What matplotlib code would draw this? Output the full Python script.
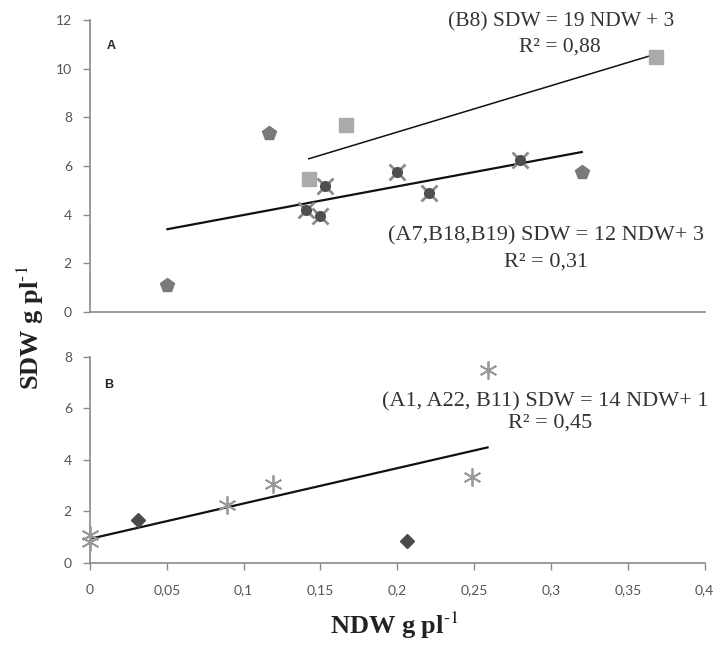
import numpy as np
from matplotlib import pyplot as plt

plt.rcParams['mathtext.fontset'] = 'stix'

# panel A: group A7, B18, B19 (house-shaped and dark star markers)
a_house_x = [0.0504, 0.1164, 0.320]
a_house_y = [1.11, 7.35, 5.75]
a_star_x = [0.1403, 0.150, 0.1532, 0.1998, 0.2203, 0.2799]
a_star_y = [4.2, 3.95, 5.2, 5.77, 4.91, 6.25]
# panel A: group B8 (squares)
b8_x = [0.1424, 0.1669, 0.368]
b8_y = [5.47, 7.7, 10.5]
# panel B: group A1, A22, B11
b_ast_x = [0.0, 0.0, 0.089, 0.1193, 0.2485, 0.2587]
b_ast_y = [1.1, 0.8, 2.23, 3.07, 3.32, 7.49]
b_dia_x = [0.031, 0.2063]
b_dia_y = [1.68, 0.86]

xticks = [0, 0.05, 0.1, 0.15, 0.2, 0.25, 0.3, 0.35, 0.4]
xticklabels = ['0', '0,05', '0,1', '0,15', '0,2', '0,25', '0,3', '0,35', '0,4']
top_yticks = [0, 2, 4, 6, 8, 10, 12]
bot_yticks = [0, 2, 4, 6, 8]

axis_col = '#8a8a8a'
text_col = '#333333'
serif = 'Liberation Serif'


def fit_line(ax, xs, ys, lw):
    k, b = np.polyfit(xs, ys, 1)
    xx = np.array([min(xs), max(xs)])
    ax.plot(xx, k * xx + b, color='#111111', linewidth=lw, zorder=2)


def style_axes(ax, yticks, show_xticks):
    ax.spines['top'].set_visible(False)
    ax.spines['right'].set_visible(False)
    ax.spines['left'].set_color(axis_col)
    ax.spines['bottom'].set_color(axis_col)
    ax.spines['left'].set_linewidth(1.2)
    ax.spines['bottom'].set_linewidth(1.2)
    ax.set_xlim(0, 0.4)
    ax.set_ylim(yticks[0], yticks[-1])
    ax.set_yticks(yticks)
    ax.set_yticklabels([str(t) for t in yticks])
    ax.tick_params(axis='both', colors=axis_col, labelcolor='#555555',
                   labelsize=10, length=5, width=1)
    for lbl in ax.get_yticklabels() + ax.get_xticklabels():
        lbl.set_family('Lato')
    if show_xticks:
        ax.set_xticks(xticks)
        ax.set_xticklabels(xticklabels, family='Lato')
        ax.tick_params(axis='x', pad=10)
    else:
        ax.set_xticks([])
    ax.tick_params(axis='y', pad=8)


fig = plt.figure(figsize=(7.14, 6.5), dpi=100)
fig.patch.set_facecolor('white')
ax1 = fig.add_axes([0.126, 0.52, 0.861, 0.449])
ax2 = fig.add_axes([0.126, 0.134, 0.861, 0.317])

# --- panel A ---
all_ax = a_house_x + a_star_x
all_ay = a_house_y + a_star_y
fit_line(ax1, all_ax, all_ay, 1.6)
fit_line(ax1, b8_x, b8_y, 1.1)
ax1.plot(a_house_x, a_house_y, 'p', color='#7a7a7a', markersize=10, zorder=3)
ax1.plot(a_star_x, a_star_y, 'x', color='#8c8c8c', markersize=11, mew=2, zorder=3)
ax1.plot(a_star_x, a_star_y, 'o', color='#4f4f4f', markersize=7, zorder=4)
ax1.plot(b8_x, b8_y, 's', color='#aaaaaa', markersize=10, zorder=3)
style_axes(ax1, top_yticks, False)
ax1.text(0.0135, 10.95, 'A', fontsize=9, fontweight='bold', color='#222222',
         family='Liberation Sans', ha='center', va='center')
ax1.text(0.3065, 11.93, '(B8) SDW = 19 NDW + 3', ha='center', va='center',
         fontsize=15.5, family=serif, color=text_col)
ax1.text(0.306, 10.9, 'R² = 0,88', ha='center', va='center',
         fontsize=15.5, family=serif, color=text_col)
ax1.text(0.2968, 3.13, '(A7,B18,B19) SDW = 12 NDW+ 3', ha='center', va='center',
         fontsize=16, family=serif, color=text_col)
ax1.text(0.2968, 2.06, 'R² = 0,31', ha='center', va='center',
         fontsize=16, family=serif, color=text_col)

# --- panel B ---
fit_line(ax2, b_ast_x + b_dia_x, b_ast_y + b_dia_y, 1.6)
ax2.plot(b_ast_x, b_ast_y, linestyle='none', marker=(6, 2, 0), color='#999999',
         markersize=13, mew=1.3, zorder=3, clip_on=False)
ax2.plot(b_dia_x, b_dia_y, 'D', color='#4a4a4a', markersize=7, zorder=3)
style_axes(ax2, bot_yticks, True)
ax2.text(0.0125, 6.92, 'B', fontsize=9, fontweight='bold', color='#222222',
         family='Liberation Sans', ha='center', va='center')
ax2.text(0.296, 6.27, '(A1, A22, B11) SDW = 14 NDW+ 1', ha='center', va='center',
         fontsize=16, family=serif, color=text_col)
ax2.text(0.2994, 5.42, 'R² = 0,45', ha='center', va='center',
         fontsize=16, family=serif, color=text_col)

fig.text(0.042, 0.495, r'SDW g pl$^{\mathbf{\text{-1}}}$', rotation=90, ha='center', va='center',
         fontsize=19, fontweight='bold', family=serif, color='#222222')
fig.text(0.553, 0.038, r'NDW g pl$^{\mathbf{\text{-1}}}$', ha='center', va='center',
         fontsize=19, fontweight='bold', family=serif, color='#222222')

fig.savefig('out.png', dpi=100, facecolor='white')
